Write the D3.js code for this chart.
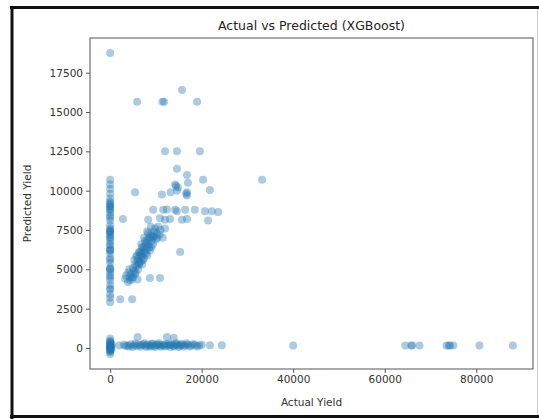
<!DOCTYPE html>
<html>
<head>
<meta charset="utf-8">
<script src="https://cdn.jsdelivr.net/npm/d3@7"></script>
<style>
  body { margin: 0; background: #fff; }
  svg { display: block; font-family: "DejaVu Sans", sans-serif; }
</style>
</head>
<body>
<div id="chart"></div>
<script>
// [actual, predicted] pairs, grouped by region of the plot
const zeroColumn = [
  [0, 10700], [0, 10400], [0, 10100], [0, 9800], [0, 9500], [0, 9300], [0, 9100], [0, 9000],
  [0, 8800], [0, 8600], [0, 8400], [0, 8100], [0, 7800], [0, 7600], [0, 7500], [0, 7400],
  [0, 7200], [0, 7000], [0, 6800], [0, 6500], [0, 6300], [0, 6200], [0, 6000], [0, 5700],
  [0, 5400], [0, 5100], [0, 5000], [0, 4800], [0, 4600], [0, 4300], [0, 4000], [0, 3700],
  [0, 3400], [0, 3200], [0, 2900], [0, 9000], [0, 7400], [0, 6200], [0, 5000], [0, 8800],
  [0, 9200], [0, 8300], [0, 7300], [0, 6600], [0, 5600], [0, 4500], [0, 3800], [0, 7000]
];
const zeroBottom = [
  [0, -380], [0, -250], [0, -150], [0, -50], [0, 0], [0, 80], [0, 150], [0, 250], [0, 350],
  [0, 450], [0, 600], [200, 100], [300, -100], [400, 200], [0, 100], [0, -200], [150, 300],
  [0, 200], [0, -100], [100, 50], [0, 400], [250, 0]
];
const bottomRow = [
  [2000, 150], [3000, 200], [3800, 160], [4500, 240], [5200, 180], [5800, 120], [6300, 210],
  [6800, 170], [7200, 230], [7700, 140], [8200, 200], [8600, 160], [9000, 250], [9500, 130],
  [10000, 190], [10400, 220], [10800, 150], [11300, 200], [11700, 170], [12100, 240],
  [12500, 140], [13000, 190], [13400, 210], [13800, 160], [14300, 230], [14700, 180],
  [15200, 150], [15800, 200], [16400, 170], [17000, 210], [17800, 160], [18600, 190],
  [19500, 150], [21800, 170], [24400, 170], [6000, 700], [12400, 700], [13900, 650],
  [3400, 120], [4100, 90], [4900, 60], [5500, 280], [6600, 80], [7500, 300], [8000, 60],
  [8800, 100], [9300, 280], [9800, 70], [10600, 300], [11000, 80], [11900, 100],
  [12800, 290], [13200, 60], [14000, 100], [14500, 300], [15000, 60], [15500, 260],
  [16100, 90], [16700, 300], [17400, 100], [18200, 250], [19000, 90], [20000, 200]
];
const farRow = [
  [40000, 150], [64500, 150], [65800, 150], [67600, 150], [73500, 150], [74300, 150],
  [75000, 150], [80700, 150], [88000, 150], [74000, 150], [66000, 150]
];
const mainCluster = [
  [3500, 4600], [4000, 4800], [4200, 5000], [4600, 4700], [5000, 5100], [5200, 4900],
  [5500, 5300], [5800, 5200], [6000, 5500], [6200, 5700], [6400, 5400], [6600, 5900],
  [6800, 6000], [7000, 5800], [7100, 6200], [7300, 6400], [7500, 6100], [7700, 6500],
  [7900, 6700], [8000, 6300], [8200, 6900], [8400, 6600], [8600, 7000], [8800, 7200],
  [9000, 6800], [9200, 7100], [9500, 7400], [9800, 7600], [10200, 7300], [10500, 7700],
  [11000, 7500], [6500, 6100], [7200, 5600], [5600, 4800], [4800, 4400], [7600, 6800],
  [8300, 7300], [9400, 6600], [6900, 6400], [5900, 5900], [8700, 6200], [10000, 6900],
  [11500, 7000], [12000, 7600], [4400, 4300],
  [3900, 4200], [4300, 4500], [5000, 4500], [5400, 4700], [6100, 5000], [6300, 5300],
  [6700, 5500], [7000, 5300], [7400, 5700], [7800, 6000], [8100, 5900], [8500, 6400],
  [9000, 6400], [9300, 7000], [9700, 7100], [10300, 7000], [10800, 7200], [5300, 5600],
  [5700, 5800], [6300, 6100], [6800, 6600], [7400, 7000], [8100, 7400], [8900, 7700]
];
const scattered = [
  [0, 18750], [5900, 15650], [11400, 15650], [11800, 15650], [15700, 16400], [19000, 15650],
  [12000, 12500], [14600, 12500], [19600, 12500],
  [14600, 11400], [16800, 11000], [20300, 10700], [33200, 10700], [14200, 10400],
  [14800, 10200], [17000, 10500], [14600, 10000], [16800, 9900], [16800, 9700],
  [21800, 10050], [5450, 9900], [11300, 9750], [13200, 9900], [14400, 10300], [16600, 9800],
  [9400, 8780], [11600, 8780], [12400, 8800], [14200, 8780], [14600, 8700], [16400, 8780],
  [18500, 8780], [20700, 8700], [22200, 8700], [23600, 8650],
  [8300, 8150], [10900, 8250], [12000, 8150], [13100, 8200], [15700, 8150], [16800, 8200],
  [21400, 8100], [2800, 8200], [15300, 6100],
  [8700, 4450], [10900, 4450], [3300, 4400], [6000, 4350], [2200, 3100], [4800, 3100]
];

const xTicks = [0, 20000, 40000, 60000, 80000];
const yTicks = [0, 2500, 5000, 7500, 10000, 12500, 15000, 17500];

const points = [].concat(zeroColumn, zeroBottom, bottomRow, farRow, mainCluster, scattered);

const W = 539, H = 419;
const box = { left: 90, right: 533, top: 38, bottom: 369 };

const svg = d3.select('#chart').append('svg').attr('width', W).attr('height', H);

// screenshot frame
svg.append('line').attr('x1', 12).attr('x2', 12).attr('y1', 6).attr('y2', 419)
  .attr('stroke', '#111').attr('stroke-width', 3);
svg.append('line').attr('x1', 10).attr('x2', 539).attr('y1', 7.5).attr('y2', 7.5)
  .attr('stroke', '#111').attr('stroke-width', 3);
svg.append('line').attr('x1', 10).attr('x2', 539).attr('y1', 416.5).attr('y2', 416.5)
  .attr('stroke', '#111').attr('stroke-width', 3);
svg.append('line').attr('x1', 537.5).attr('x2', 537.5).attr('y1', 9).attr('y2', 415)
  .attr('stroke', '#ccc').attr('stroke-width', 1);

// matplotlib-like 5% margins
function padded(ext) {
  const d = (ext[1] - ext[0]) * 0.05;
  return [ext[0] - d, ext[1] + d];
}
const x = d3.scaleLinear()
  .domain(padded(d3.extent(points, d => d[0])))
  .range([box.left, box.right]);
const y = d3.scaleLinear()
  .domain(padded(d3.extent(points, d => d[1])))
  .range([box.bottom, box.top]);

// points
svg.append('g')
  .selectAll('circle')
  .data(points)
  .join('circle')
  .attr('cx', d => x(d[0]))
  .attr('cy', d => y(d[1]))
  .attr('r', 4)
  .attr('fill', '#1f77b4')
  .attr('fill-opacity', 0.38);

// axes
const xAxis = svg.append('g')
  .attr('transform', `translate(0,${box.bottom})`)
  .call(d3.axisBottom(x).tickValues(xTicks).tickSize(4).tickPadding(3).tickFormat(d3.format('d')));
const yAxis = svg.append('g')
  .attr('transform', `translate(${box.left},0)`)
  .call(d3.axisLeft(y).tickValues(yTicks).tickSize(4).tickPadding(3).tickFormat(d3.format('d')));

[xAxis, yAxis].forEach(g => {
  g.select('.domain').remove();
  g.selectAll('line').attr('stroke', '#555');
  g.selectAll('text').attr('fill', '#333').style('font-size', '10.5px')
    .style('font-family', '"DejaVu Sans", sans-serif');
});

// spines
svg.append('rect')
  .attr('x', box.left).attr('y', box.top)
  .attr('width', box.right - box.left).attr('height', box.bottom - box.top)
  .attr('fill', 'none').attr('stroke', '#555').attr('stroke-width', 1);

// title and labels
const cx = (box.left + box.right) / 2;
svg.append('text')
  .attr('x', cx).attr('y', 30)
  .attr('text-anchor', 'middle')
  .attr('fill', '#222').style('font-size', '12.5px')
  .text('Actual vs Predicted (XGBoost)');

svg.append('text')
  .attr('x', cx).attr('y', 406)
  .attr('text-anchor', 'middle')
  .attr('fill', '#333').style('font-size', '10.5px')
  .text('Actual Yield');

svg.append('text')
  .attr('transform', `translate(31,${(box.top + box.bottom) / 2}) rotate(-90)`)
  .attr('text-anchor', 'middle')
  .attr('fill', '#333').style('font-size', '10.5px')
  .text('Predicted Yield');
</script>
</body>
</html>
